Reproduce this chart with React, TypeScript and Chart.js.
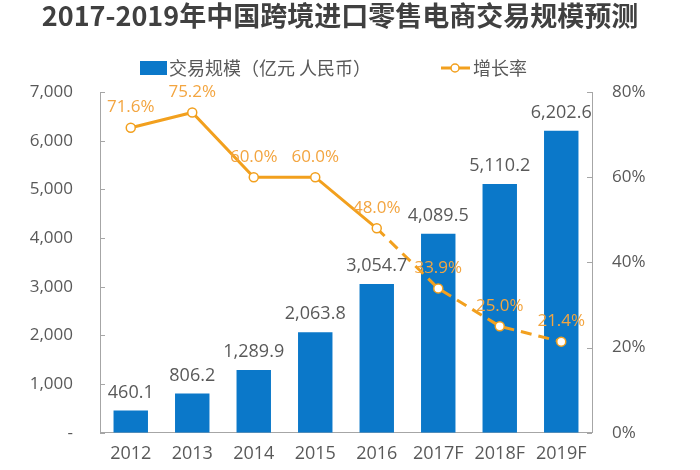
import React, { useEffect, useRef } from "react";
import { Chart, registerables } from "chart.js";

Chart.register(...registerables);

const title = "2017-2019年中国跨境进口零售电商交易规模预测";
const categories = ["2012", "2013", "2014", "2015", "2016", "2017F", "2018F", "2019F"];
const volume = [460.1, 806.2, 1289.9, 2063.8, 3054.7, 4089.5, 5110.2, 6202.6];
const growth = [71.6, 75.2, 60.0, 60.0, 48.0, 33.9, 25.0, 21.4];
const volumeLabel = "交易规模（亿元 人民币）";
const growthLabel = "增长率";
const leftTicks = [0, 1000, 2000, 3000, 4000, 5000, 6000, 7000];
const rightTicks = [0, 20, 40, 60, 80];

const BLUE = "#0B78C9";
const ORANGE = "#F2A01E";
const LABEL_ORANGE = "#F3A540";
const GRAY_TEXT = "#595959";
const AXIS = "#A6A6A6";
const NUM_FONT = "'Open Sans', 'Noto Sans CJK SC', sans-serif";
const CJK_FONT = "'Noto Sans CJK SC', sans-serif";

const fmt = (v: number) =>
  v.toLocaleString("en-US", { minimumFractionDigits: 1, maximumFractionDigits: 1 });

const decorPlugin = {
  id: "decor",
  afterDraw(chart: any) {
    const ctx = chart.ctx as CanvasRenderingContext2D;
    ctx.save();
    // title
    ctx.fillStyle = "#404040";
    ctx.font = `bold 27px ${CJK_FONT}`;
    ctx.textAlign = "center";
    ctx.textBaseline = "middle";
    ctx.fillText(title, 340, 16);
    // legend
    ctx.fillStyle = BLUE;
    ctx.fillRect(140, 61, 27, 14);
    ctx.font = `18px ${CJK_FONT}`;
    ctx.fillStyle = GRAY_TEXT;
    ctx.textAlign = "left";
    ctx.fillText(volumeLabel, 169, 68);
    ctx.strokeStyle = ORANGE;
    ctx.lineWidth = 3;
    ctx.beginPath();
    ctx.moveTo(441, 68);
    ctx.lineTo(470, 68);
    ctx.stroke();
    ctx.beginPath();
    ctx.arc(455, 68, 4, 0, Math.PI * 2);
    ctx.fillStyle = "#fff";
    ctx.fill();
    ctx.lineWidth = 1.5;
    ctx.stroke();
    ctx.fillStyle = GRAY_TEXT;
    ctx.fillText(growthLabel, 473, 68);

    // inner tick marks
    const y = chart.scales.y;
    const y1 = chart.scales.y1;
    const area = chart.chartArea;
    ctx.strokeStyle = AXIS;
    ctx.lineWidth = 1;
    leftTicks.forEach((t) => {
      const py = Math.round(y.getPixelForValue(t)) + 0.5;
      ctx.beginPath();
      ctx.moveTo(area.left, py);
      ctx.lineTo(area.left + 5, py);
      ctx.stroke();
    });
    rightTicks.forEach((t) => {
      const py = Math.round(y1.getPixelForValue(t)) + 0.5;
      ctx.beginPath();
      ctx.moveTo(area.right, py);
      ctx.lineTo(area.right - 5, py);
      ctx.stroke();
    });

    // data labels
    const barMeta = chart.getDatasetMeta(0);
    ctx.font = `18px ${NUM_FONT}`;
    ctx.textAlign = "center";
    ctx.textBaseline = "bottom";
    ctx.fillStyle = GRAY_TEXT;
    barMeta.data.forEach((el: any, i: number) => {
      ctx.fillText(fmt(volume[i]), el.x, el.y - 9);
    });
    const lineMeta = chart.getDatasetMeta(1);
    ctx.font = `17px ${NUM_FONT}`;
    ctx.fillStyle = LABEL_ORANGE;
    lineMeta.data.forEach((el: any, i: number) => {
      ctx.fillText(growth[i].toFixed(1) + "%", el.x, el.y - 12);
    });
    ctx.restore();
  },
};

export default function App() {
  const ref = useRef<HTMLCanvasElement | null>(null);
  useEffect(() => {
    document.body.style.margin = "0";
    const chart = new Chart(ref.current as HTMLCanvasElement, {
      type: "bar",
      data: {
        labels: categories,
        datasets: [
          {
            type: "bar",
            label: volumeLabel,
            data: volume,
            backgroundColor: BLUE,
            yAxisID: "y",
            categoryPercentage: 1,
            barPercentage: 0.56,
            order: 2,
          },
          {
            type: "line",
            label: growthLabel,
            data: growth,
            yAxisID: "y1",
            borderColor: ORANGE,
            borderWidth: 3,
            pointRadius: 4.5,
            pointBorderWidth: 1.5,
            pointBackgroundColor: "#fff",
            pointBorderColor: ORANGE,
            tension: 0,
            order: 1,
            segment: {
              borderDash: (c: any) => (c.p0DataIndex >= 4 ? [11, 7] : undefined),
            },
          } as any,
        ],
      },
      options: {
        responsive: false,
        animation: false,
        layout: { padding: { top: 92, bottom: 0, left: 0, right: 0 } },
        plugins: {
          legend: { display: false },
          title: { display: false },
          tooltip: { enabled: false },
        },
        scales: {
          x: {
            grid: { display: false, drawTicks: false },
            border: { display: true, color: AXIS, width: 1 },
            ticks: {
              color: GRAY_TEXT,
              font: { size: 18, family: NUM_FONT },
              padding: 10,
              maxRotation: 0,
              autoSkip: false,
            },
            afterFit: (s: any) => {
              s.height = 33;
            },
          },
          y: {
            position: "left",
            min: 0,
            max: 7000,
            grid: { display: false, drawTicks: false },
            border: { display: true, color: AXIS, width: 1 },
            afterBuildTicks: (s: any) => {
              s.ticks = leftTicks.map((v) => ({ value: v }));
            },
            ticks: {
              color: GRAY_TEXT,
              font: { size: 17, family: NUM_FONT },
              padding: 27,
              callback: (v: any) => (Number(v) === 0 ? "-" : Number(v).toLocaleString("en-US")),
            },
            afterFit: (s: any) => {
              s.width = 100;
            },
          },
          y1: {
            position: "right",
            min: 0,
            max: 80,
            grid: { display: false, drawTicks: false },
            border: { display: true, color: AXIS, width: 1 },
            afterBuildTicks: (s: any) => {
              s.ticks = rightTicks.map((v) => ({ value: v }));
            },
            ticks: {
              color: GRAY_TEXT,
              font: { size: 17, family: NUM_FONT },
              padding: 20,
              callback: (v: any) => v + "%",
            },
            afterFit: (s: any) => {
              s.width = 108;
            },
          },
        },
      },
      plugins: [decorPlugin],
    });
    return () => chart.destroy();
  }, []);
  return (
    <div style={{ position: "absolute", left: 0, top: 0, width: 700, height: 470, background: "#fff" }}>
      <canvas ref={ref} width={700} height={470} />
    </div>
  );
}
